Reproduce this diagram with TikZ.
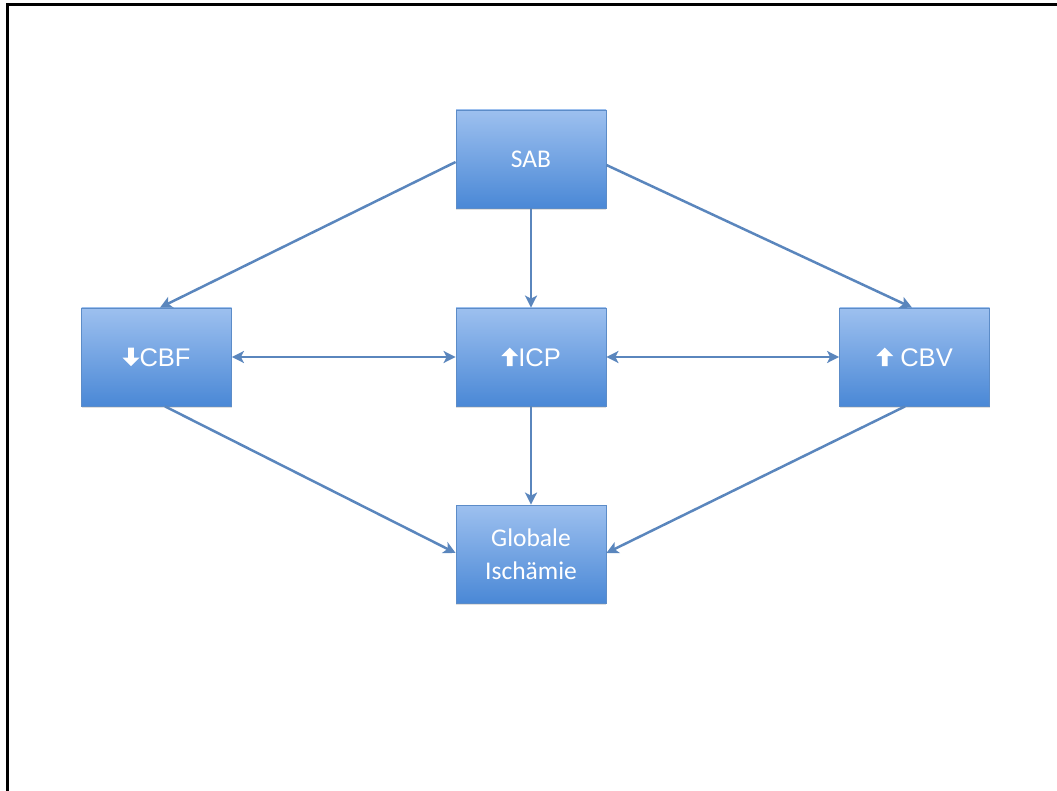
\documentclass[tikz,border=0pt]{standalone}
\usepackage{fontspec}
\setmainfont{Carlito}
\newfontfamily\arialf{Liberation Sans}
\usetikzlibrary{arrows.meta,shadows}
\definecolor{boxtop}{HTML}{9DC0EF}
\definecolor{boxbot}{HTML}{4A88D6}
\definecolor{boxline}{HTML}{5C8CC8}
\definecolor{arrowc}{HTML}{5A86BD}
\newcommand{\myuparrow}{\tikz[baseline=0pt,x=1pt,y=1pt]{\fill[white] (-2.8,0) -- (-2.8,10) -- (-8.5,10) -- (0,18.5) -- (8.5,10) -- (2.8,10) -- (2.8,0) -- cycle;}}
\newcommand{\mydownarrow}{\tikz[baseline=0pt,x=1pt,y=1pt]{\fill[white] (-2.8,18.5) -- (-2.8,8.5) -- (-8.5,8.5) -- (0,0) -- (8.5,8.5) -- (2.8,8.5) -- (2.8,18.5) -- cycle;}}
\tikzset{
  box/.style={rectangle, minimum width=150pt, minimum height=98pt, inner sep=0pt,
    top color=boxtop, bottom color=boxbot, draw=boxline, line width=0.8pt,
    text=white, font=\fontsize{25.5}{33}\selectfont, align=center,
    drop shadow={opacity=0.25, shadow xshift=0pt, shadow yshift=-2pt}},
  abox/.style={box, font=\arialf\fontsize{25.5}{30}\selectfont},
  conn/.style={draw=arrowc, line width=2.5pt, -{Stealth[length=12pt,width=12pt,inset=3pt]}},
  bconn/.style={draw=arrowc, line width=2.5pt, {Stealth[length=12pt,width=12pt,inset=3pt]}-{Stealth[length=12pt,width=12pt,inset=3pt]}},
  frame/.style={line width=3pt, black}
}
\begin{document}
\begin{tikzpicture}[x=1pt,y=-1pt]
\useasboundingbox (0,0) rectangle (1057,791);
\coordinate (ftr) at (1057,4.5);
\coordinate (ftl) at (7,4.5);
\coordinate (fbl) at (7,791);
\draw[frame] (ftr) -- (ftl) -- (fbl);
\node[box] (sab) at (531,159) {SAB};
\node[abox] (cbf) at (156.5,357) {\mydownarrow CBF};
\node[abox] (icp) at (531,357) {\myuparrow ICP};
\node[abox] (cbv) at (914.5,357) {\myuparrow\ CBV};
\node[box] (glob) at (531,554) {Globale\\Ischämie};
\draw[conn] (sab.west |- 0,162) -- (cbf.north -| 160,0);
\draw[conn] (sab) -- (icp);
\draw[conn] (sab.east |- 0,165) -- (cbv.north -| 912,0);
\draw[bconn] (cbf) -- (icp);
\draw[bconn] (icp) -- (cbv);
\draw[conn] (cbf.south -| 165,0) -- (glob.west |- 0,553);
\draw[conn] (icp) -- (glob);
\draw[conn] (cbv.south -| 905,0) -- (glob.east |- 0,553);
\end{tikzpicture}
\end{document}
